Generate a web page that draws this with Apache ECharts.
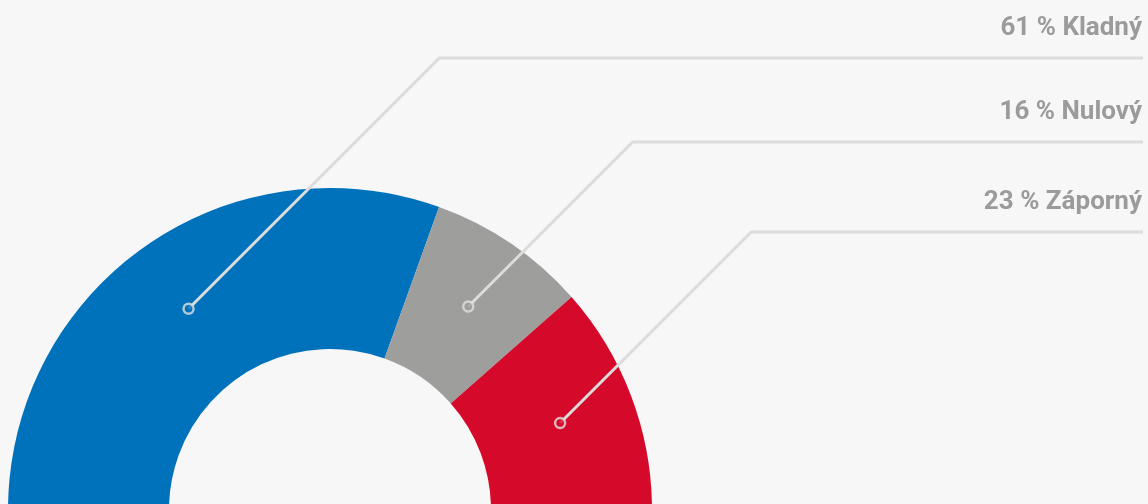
<!DOCTYPE html>
<html>
<head>
<meta charset="utf-8">
<script src="https://cdn.jsdelivr.net/npm/echarts@6/dist/echarts.min.js"></script>
<style>
html,body{margin:0;padding:0;background:#f7f7f7;}
#c{width:1148px;height:504px;}
</style>
</head>
<body>
<div id="c"></div>
<script>
// Data
var categories = ['Kladný', 'Nulový', 'Záporný'];
var values = [61, 16, 23];
var colors = ['#0071BB', '#9E9E9C', '#D5092A'];

// Layout constants (not data)
var CX = 330, CY = 510, R_IN = 161, R_OUT = 322;
var R_MID = 246;
var LINE_Y = [58, 142, 232];
var TEXT_RIGHT = 1142, LINE_RIGHT = 1143;
var TOTAL = values.reduce(function (a, b) { return a + b; }, 0);

function midFraction(i) {
  var cum = 0;
  for (var k = 0; k < i; k++) cum += values[k];
  return (cum + values[i] / 2) / TOTAL;
}
function anchor(i) {
  var theta = Math.PI - midFraction(i) * Math.PI;
  return [CX + R_MID * Math.cos(theta), CY - R_MID * Math.sin(theta)];
}

function buildPie(visible) {
  var d = categories.map(function (n, i) {
    return { name: n, value: values[i], itemStyle: { color: visible ? colors[i] : 'rgba(0,0,0,0)' } };
  });
  d.push({
    name: '', value: TOTAL, itemStyle: { color: 'rgba(0,0,0,0)' },
    label: { show: false }, labelLine: { show: false }
  });
  return d;
}

var markerData = values.map(function (v, i) {
  return { value: [R_MID, midFraction(i) * TOTAL], itemStyle: { color: colors[i] } };
});

var chart = echarts.init(document.getElementById('c'));
chart.setOption({
  backgroundColor: '#f7f7f7',
  animation: false,
  polar: { center: [CX, CY], radius: R_OUT },
  angleAxis: { type: 'value', min: 0, max: TOTAL * 2, startAngle: 180, clockwise: true, show: false },
  radiusAxis: { type: 'value', min: 0, max: R_OUT, show: false },
  series: [
    {
      type: 'pie',
      center: [CX, CY],
      radius: [R_IN, R_OUT],
      startAngle: 180,
      clockwise: true,
      silent: true,
      z: 2,
      data: buildPie(true),
      label: { show: false },
      labelLine: { show: false }
    },
    {
      type: 'pie',
      center: [CX, CY],
      radius: [R_IN, R_OUT],
      startAngle: 180,
      clockwise: true,
      silent: true,
      avoidLabelOverlap: false,
      z: 5,
      data: buildPie(false),
      label: {
        show: true,
        formatter: '{c} % {b}',
        color: '#9b9b9b',
        fontFamily: 'Roboto',
        fontWeight: 'bold',
        fontSize: 26
      },
      labelLine: {
        show: true,
        smooth: false,
        lineStyle: { color: '#dcdcdc', width: 3 }
      },
      labelLayout: function (p) {
        var i = p.dataIndex;
        if (i >= values.length) return {};
        var a = anchor(i);
        var ly = LINE_Y[i];
        var bx = a[0] + (a[1] - ly);
        return {
          x: TEXT_RIGHT,
          y: ly - 30,
          align: 'right',
          verticalAlign: 'middle',
          labelLinePoints: [a, [bx, ly], [LINE_RIGHT, ly]]
        };
      }
    },
    {
      type: 'scatter',
      coordinateSystem: 'polar',
      symbol: 'circle',
      symbolSize: 10,
      z: 10,
      silent: true,
      itemStyle: { borderColor: '#e0e0e0', borderWidth: 2.5 },
      data: markerData
    }
  ]
});
</script>
</body>
</html>
